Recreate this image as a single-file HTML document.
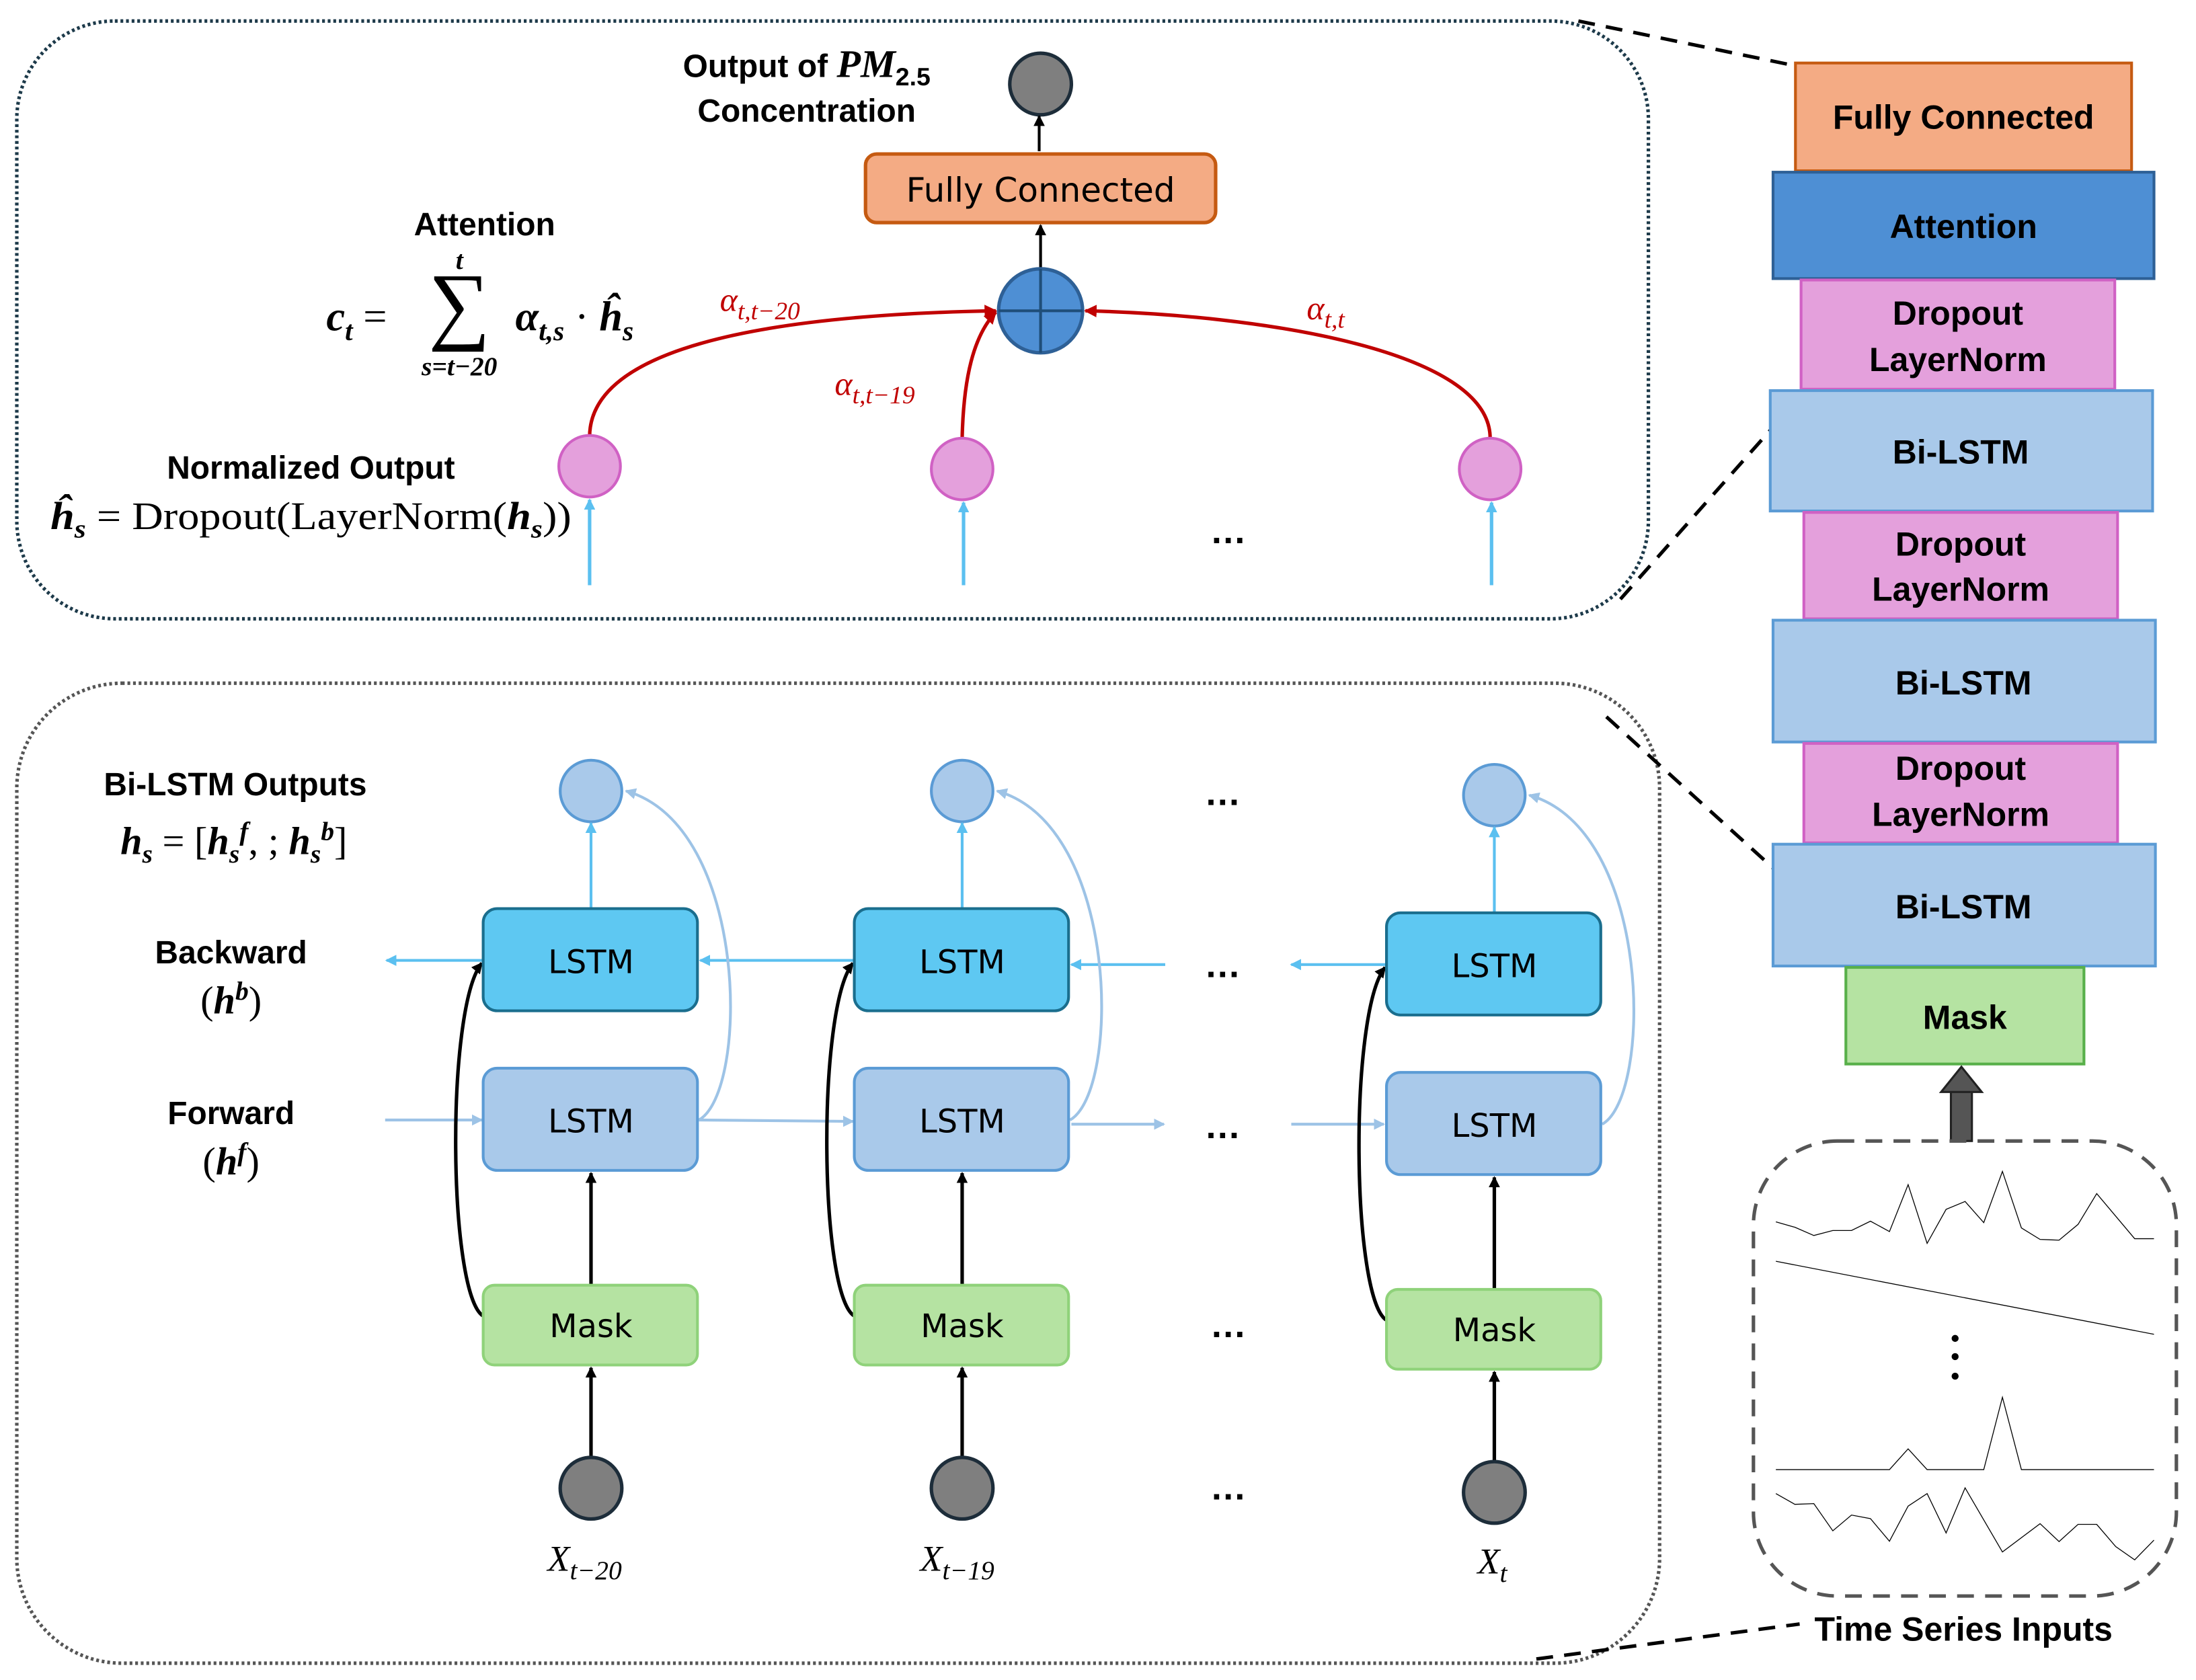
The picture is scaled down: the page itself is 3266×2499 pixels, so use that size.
<!DOCTYPE html>
<html><head><meta charset="utf-8"><style>
html,body{margin:0;padding:0;background:#fff;}
svg{display:block;}
.b{font-family:"Liberation Sans",sans-serif;font-weight:bold;fill:#000;}
.n{font-family:"DejaVu Sans","Liberation Sans",sans-serif;fill:#000;}
.m{font-family:"Liberation Serif","DejaVu Serif",serif;fill:#000;}
.r{font-family:"Liberation Serif",serif;font-style:italic;fill:#c00000;}
</style></head><body>
<svg width="3266" height="2499" viewBox="0 0 1568 1200" preserveAspectRatio="none" xmlns="http://www.w3.org/2000/svg">
<defs>
<marker id="ak" markerWidth="8" markerHeight="8" refX="7" refY="4" orient="auto" markerUnits="userSpaceOnUse"><path d="M0,0 L8,4 L0,8 z" fill="#000"/></marker>
<marker id="ar" markerWidth="9" markerHeight="9" refX="8" refY="4.5" orient="auto" markerUnits="userSpaceOnUse"><path d="M0,0 L9,4.5 L0,9 z" fill="#c00000"/></marker>
<marker id="ac" markerWidth="8" markerHeight="8" refX="7" refY="4" orient="auto" markerUnits="userSpaceOnUse"><path d="M0,0 L8,4 L0,8 z" fill="#5bc0f0"/></marker>
<marker id="al" markerWidth="8" markerHeight="8" refX="7" refY="4" orient="auto" markerUnits="userSpaceOnUse"><path d="M0,0 L8,4 L0,8 z" fill="#9dc3e6"/></marker>
</defs>

<rect x="12" y="15" width="1165" height="427" rx="70" fill="none" stroke="#1d3a4a" stroke-width="2.5" stroke-dasharray="2,2"/>
<rect x="12" y="488" width="1173" height="700" rx="75" fill="none" stroke="#555" stroke-width="2.5" stroke-dasharray="2,2"/>

<g stroke="#000" stroke-width="2.5" stroke-dasharray="12,8" fill="none">
<line x1="1127" y1="15" x2="1282" y2="47"/>
<line x1="1157" y1="428" x2="1290" y2="278"/>
<line x1="1147" y1="512" x2="1266" y2="620"/>
<line x1="1097" y1="1185" x2="1285" y2="1160"/>
</g>

<g stroke-width="2">
<rect x="1282" y="45" width="240" height="77" fill="#f4ab84" stroke="#c55a11"/>
<rect x="1266" y="123" width="272" height="76" fill="#4e8fd4" stroke="#2e6096"/>
<rect x="1286" y="200" width="224" height="78" fill="#e4a0dc" stroke="#d061c4"/>
<rect x="1264" y="279" width="273" height="86" fill="#a9c9ea" stroke="#5b9bd5"/>
<rect x="1288" y="366" width="224" height="76" fill="#e4a0dc" stroke="#d061c4"/>
<rect x="1266" y="443" width="273" height="87" fill="#a9c9ea" stroke="#5b9bd5"/>
<rect x="1288" y="531" width="224" height="71" fill="#e4a0dc" stroke="#d061c4"/>
<rect x="1266" y="603" width="273" height="87" fill="#a9c9ea" stroke="#5b9bd5"/>
<rect x="1318" y="691" width="170" height="69" fill="#b5e3a2" stroke="#58b04a"/>
</g>
<g class="b" font-size="24" text-anchor="middle">
<text x="1402" y="92">Fully Connected</text>
<text x="1402" y="170">Attention</text>
<text x="1398" y="232">Dropout</text><text x="1398" y="265">LayerNorm</text>
<text x="1400" y="331">Bi-LSTM</text>
<text x="1400" y="397">Dropout</text><text x="1400" y="429">LayerNorm</text>
<text x="1402" y="496">Bi-LSTM</text>
<text x="1400" y="557">Dropout</text><text x="1400" y="590">LayerNorm</text>
<text x="1402" y="656">Bi-LSTM</text>
<text x="1403" y="735">Mask</text>
</g>
<rect x="1393" y="778" width="15" height="37" fill="#555" stroke="#222" stroke-width="1.5"/>
<path d="M1386,780 L1400.5,762 L1415,780 z" fill="#555" stroke="#222" stroke-width="1.5"/>

<rect x="1252" y="815" width="302" height="325" rx="60" fill="none" stroke="#555" stroke-width="2.5" stroke-dasharray="12,8"/>
<g transform="translate(1224.3,795.3) scale(0.2186,0.2557)" fill="none" stroke="#000" stroke-width="1.3">
<polyline vector-effect="non-scaling-stroke" points="200,303 262,318 324,341 386,327 447,327 509,301 571,330 632,199 694,363 756,268 818,246 879,305 940,162 1002,320 1063,352 1125,354 1187,310 1248,224 1372,350 1435,350"/>
<polyline vector-effect="non-scaling-stroke" points="200,413 1435,617"/>
<polyline vector-effect="non-scaling-stroke" points="200,995 571,995 632,937 694,995 879,995 940,793 1002,995 1435,995"/>
<polyline vector-effect="non-scaling-stroke" points="200,1062 262,1092 324,1090 386,1166 447,1122 509,1132 571,1195 632,1097 694,1062 756,1172 818,1046 940,1225 1063,1146 1125,1196 1187,1148 1248,1148 1310,1210 1372,1247 1435,1192"/>
</g>
<circle cx="1396" cy="956" r="2.5"/><circle cx="1396" cy="969" r="2.5"/><circle cx="1396" cy="983" r="2.5"/>
<text class="b" x="1402" y="1172" font-size="24" text-anchor="middle">Time Series Inputs</text>

<!-- TOP -->
<text class="b" x="576" y="55" font-size="23" text-anchor="middle">Output of <tspan class="m" font-style="italic" font-size="28">PM</tspan><tspan font-size="18" dy="6">2.5</tspan></text>
<text class="b" x="576" y="87" font-size="23" text-anchor="middle">Concentration</text>
<circle cx="743" cy="60" r="22" fill="#7f7f7f" stroke="#1d2d3a" stroke-width="2.5"/>
<line x1="742" y1="108" x2="742" y2="83" stroke="#000" stroke-width="2" marker-end="url(#ak)"/>
<rect x="618" y="110" width="250" height="49" rx="8" fill="#f4ab84" stroke="#c55a11" stroke-width="2.5"/>
<text class="n" x="743" y="144" font-size="24" text-anchor="middle">Fully Connected</text>
<line x1="743" y1="192" x2="743" y2="161" stroke="#000" stroke-width="2" marker-end="url(#ak)"/>
<circle cx="743" cy="222" r="30" fill="#4e8fd4" stroke="#2e6096" stroke-width="2.5"/>
<line x1="713" y1="222" x2="773" y2="222" stroke="#1f4e79" stroke-width="2"/>
<line x1="743" y1="192" x2="743" y2="252" stroke="#1f4e79" stroke-width="2"/>
<g fill="none" stroke="#c00000" stroke-width="2.5">
<path d="M421,312 C421,250 540,225 711,222" marker-end="url(#ar)"/>
<path d="M687,313 C688,270 695,240 711,223" marker-end="url(#ar)"/>
<path d="M1064,313 C1064,250 900,225 775,222" marker-end="url(#ar)"/>
</g>
<text class="r" x="514" y="222" font-size="24">α<tspan font-size="18" dy="6">t,t−20</tspan></text>
<text class="r" x="596" y="282" font-size="24">α<tspan font-size="18" dy="6">t,t−19</tspan></text>
<text class="r" x="933" y="228" font-size="24">α<tspan font-size="18" dy="6">t,t</tspan></text>
<g fill="#e4a0dc" stroke="#d061c4" stroke-width="2">
<circle cx="421" cy="333" r="22"/><circle cx="687" cy="335" r="22"/><circle cx="1064" cy="335" r="22"/>
</g>
<g stroke="#5bc0f0" stroke-width="2.5">
<line x1="421" y1="418" x2="421" y2="357" marker-end="url(#ac)"/>
<line x1="688" y1="418" x2="688" y2="359" marker-end="url(#ac)"/>
<line x1="1065" y1="418" x2="1065" y2="359" marker-end="url(#ac)"/>
</g>
<text class="b" x="877" y="388" font-size="26" text-anchor="middle">…</text>
<text class="b" x="346" y="168" font-size="23" text-anchor="middle">Attention</text>
<text class="m" x="233" y="236" font-size="30" font-weight="bold" font-style="italic">c<tspan font-size="20" dy="7">t</tspan><tspan dy="-7" font-style="normal" font-weight="normal"> =</tspan></text>
<text class="m" x="328" y="238" font-size="62" text-anchor="middle">∑</text>
<text class="m" x="328" y="192" font-size="19" font-weight="bold" font-style="italic" text-anchor="middle">t</text>
<text class="m" x="328" y="268" font-size="19" font-weight="bold" font-style="italic" text-anchor="middle">s=t−20</text>
<text class="m" x="368" y="236" font-size="30" font-weight="bold" font-style="italic">α<tspan font-size="20" dy="7">t,s</tspan><tspan dy="-7" font-style="normal" font-weight="normal"> · </tspan>ĥ<tspan font-size="20" dy="7">s</tspan></text>
<text class="b" x="222" y="342" font-size="23" text-anchor="middle">Normalized Output</text>
<text class="m" x="36" y="378" font-size="28" textLength="372" lengthAdjust="spacingAndGlyphs"><tspan font-weight="bold" font-style="italic">ĥ</tspan><tspan font-size="19" dy="6" font-weight="bold" font-style="italic">s</tspan><tspan dy="-6"> = Dropout(LayerNorm(</tspan><tspan font-weight="bold" font-style="italic">h</tspan><tspan font-size="19" dy="6" font-weight="bold" font-style="italic">s</tspan><tspan dy="-6">))</tspan></text>

<!-- BOTTOM -->
<text class="b" x="168" y="568" font-size="23" text-anchor="middle">Bi-LSTM Outputs</text>
<text class="m" x="86" y="610" font-size="28"><tspan font-weight="bold" font-style="italic">h</tspan><tspan font-size="19" dy="6" font-weight="bold" font-style="italic">s</tspan><tspan dy="-6"> = [</tspan><tspan font-weight="bold" font-style="italic">h</tspan><tspan font-size="19" dy="6" font-weight="bold" font-style="italic">s</tspan><tspan font-size="19" dy="-16" font-weight="bold" font-style="italic">f</tspan><tspan dy="10">, ; </tspan><tspan font-weight="bold" font-style="italic">h</tspan><tspan font-size="19" dy="6" font-weight="bold" font-style="italic">s</tspan><tspan font-size="19" dy="-16" font-weight="bold" font-style="italic">b</tspan><tspan dy="10">]</tspan></text>
<text class="b" x="165" y="688" font-size="23" text-anchor="middle">Backward</text>
<text class="m" x="165" y="724" font-size="28" text-anchor="middle">(<tspan font-weight="bold" font-style="italic">h</tspan><tspan font-size="19" dy="-10" font-weight="bold" font-style="italic">b</tspan><tspan dy="10">)</tspan></text>
<text class="b" x="165" y="803" font-size="23" text-anchor="middle">Forward</text>
<text class="m" x="165" y="839" font-size="28" text-anchor="middle">(<tspan font-weight="bold" font-style="italic">h</tspan><tspan font-size="19" dy="-10" font-weight="bold" font-style="italic">f</tspan><tspan dy="10">)</tspan></text>

<g stroke-width="2">
<line x1="345" y1="686" x2="276" y2="686" stroke="#5bc0f0" marker-end="url(#ac)"/>
<line x1="609" y1="686" x2="500" y2="686" stroke="#5bc0f0" marker-end="url(#ac)"/>
<line x1="832" y1="689" x2="765" y2="689" stroke="#5bc0f0" marker-end="url(#ac)"/>
<line x1="989" y1="689" x2="922" y2="689" stroke="#5bc0f0" marker-end="url(#ac)"/>
<line x1="275" y1="800" x2="344" y2="800" stroke="#9dc3e6" marker-end="url(#al)"/>
<line x1="499" y1="800" x2="609" y2="801" stroke="#9dc3e6" marker-end="url(#al)"/>
<line x1="765" y1="803" x2="831" y2="803" stroke="#9dc3e6" marker-end="url(#al)"/>
<line x1="922" y1="803" x2="988" y2="803" stroke="#9dc3e6" marker-end="url(#al)"/>
</g>

<g id="c1">
<path d="M345,940 C320,925 318,720 344,688" fill="none" stroke="#000" stroke-width="2.5" marker-end="url(#ak)"/>
<path d="M499,800 C535,780 535,590 447,565" fill="none" stroke="#9dc3e6" stroke-width="2" marker-end="url(#al)"/>
<circle cx="422" cy="565" r="22" fill="#a9c9ea" stroke="#5b9bd5" stroke-width="2"/>
<line x1="422" y1="649" x2="422" y2="588" stroke="#5bc0f0" stroke-width="2" marker-end="url(#ac)"/>
<rect x="345" y="649" width="153" height="73" rx="10" fill="#5ec8f2" stroke="#1a6e8e" stroke-width="2"/>
<text class="n" x="422" y="695" font-size="23" text-anchor="middle">LSTM</text>
<rect x="345" y="763" width="153" height="73" rx="10" fill="#a9c9ea" stroke="#5b9bd5" stroke-width="2"/>
<text class="n" x="422" y="809" font-size="23" text-anchor="middle">LSTM</text>
<line x1="422" y1="918" x2="422" y2="838" stroke="#000" stroke-width="2.5" marker-end="url(#ak)"/>
<rect x="345" y="918" width="153" height="57" rx="8" fill="#b5e3a2" stroke="#8fd27a" stroke-width="2"/>
<text class="n" x="422" y="955" font-size="23" text-anchor="middle">Mask</text>
<line x1="422" y1="1041" x2="422" y2="977" stroke="#000" stroke-width="2.5" marker-end="url(#ak)"/>
<circle cx="422" cy="1063" r="22" fill="#7f7f7f" stroke="#1d2d3a" stroke-width="2.5"/>
</g>
<use href="#c1" transform="translate(265,0)"/>
<use href="#c1" transform="translate(645,3)"/>
<text class="m" x="391" y="1122" font-size="26" font-style="italic">X<tspan font-size="19" dy="6">t−20</tspan></text>
<text class="m" x="657" y="1122" font-size="26" font-style="italic">X<tspan font-size="19" dy="6">t−19</tspan></text>
<text class="m" x="1055" y="1124" font-size="26" font-style="italic">X<tspan font-size="19" dy="6">t</tspan></text>
<g class="b" font-size="26" text-anchor="middle">
<text x="873" y="575">…</text><text x="873" y="698">…</text><text x="873" y="813">…</text><text x="877" y="955">…</text><text x="877" y="1071">…</text>
</g>
</svg>
</body></html>
